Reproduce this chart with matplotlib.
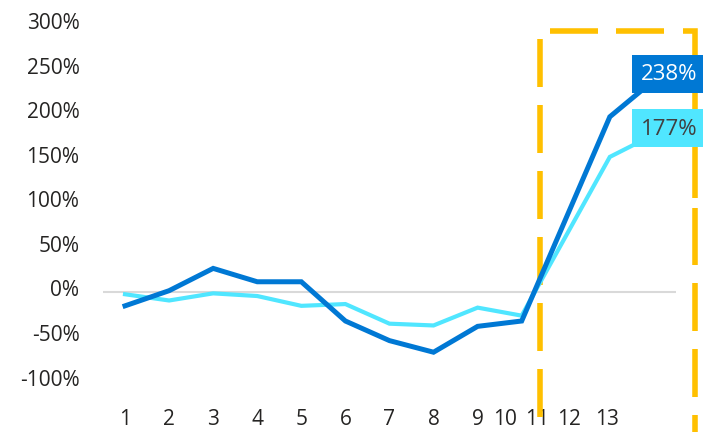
import matplotlib
matplotlib.use("Agg")
import matplotlib.pyplot as plt
from matplotlib.patches import Rectangle
from matplotlib.transforms import ScaledTranslation

plt.rcParams['font.family'] = ['Open Sans', 'DejaVu Sans']
plt.rcParams['lines.scale_dashes'] = False

# data (no value at 11)
periods = [1, 2, 3, 4, 5, 6, 7, 8, 9, 10, 12, 13]
series_dark = [-15, 2, 27, 12, 12, -32, -54, -67, -38, -32, 197, 238]
series_light = [-2, -9, -1, -4, -15, -13, -35, -37, -17, -26, 152, 177]
tick_labels = ['1', '2', '3', '4', '5', '6', '7', '8', '9', '10', '11', '12', '13']
# label positions as drawn in the original (last few are squeezed together)
tick_pos = [1, 2, 3, 4, 5, 6, 7, 8, 9, 9.62, 10.34, 11.07, 11.93]
y_ticks = [-100, -50, 0, 50, 100, 150, 200, 250, 300]

dark = '#0078D4'
light = '#50E6FF'
gold = '#FFC000'

fig = plt.figure(figsize=(7.03, 4.32), dpi=100)
ax = fig.add_axes([0.1465, 0.0856, 0.815, 0.8567])

ax.axhline(0, color='#D9D9D9', lw=1.5, zorder=1)

ax.plot(periods, series_light, color=light, lw=3.0, zorder=3, solid_joinstyle='miter')
ax.plot(periods, series_dark, color=dark, lw=3.6, zorder=3.5, solid_joinstyle='miter')

# dashed highlight frame (open at the bottom, runs off the figure)
px = 0.72  # pixel -> point at 100 dpi
xl, xr, yt, ybreak, ygap, ybot = 10.41, 13.93, 293, 106, 95, -175
ax.plot([xr, xr, xl, xl], [ybreak, yt, yt, ybot], color=gold, lw=4,
        dashes=[v * px for v in [179, 19] + [48, 18] * 12],
        dash_capstyle='butt', dash_joinstyle='miter', clip_on=False, zorder=2)
ax.plot([xr, xr], [ygap, ybot], color=gold, lw=4,
        dashes=[v * px for v in [57, 18] + [48, 18] * 6],
        dash_capstyle='butt', clip_on=False, zorder=2)

# end labels
for val, face, txt_col in [(series_dark[-1], dark, 'white'), (series_light[-1], light, '#404040')]:
    ax.add_patch(Rectangle((periods[-1] - 0.5, val + 7 - 21.3), 1.7, 42.6,
                           facecolor=face, edgecolor='none', clip_on=False, zorder=4))
    ax.text(periods[-1] + 0.34, val + 6, f'{val}%', color=txt_col, fontsize=16,
            ha='center', va='center', zorder=5, clip_on=False)

ax.set_xlim(0.5, 13.5)
ax.set_ylim(-115, 300)
ax.set_xticks(tick_pos)
ax.set_xticklabels(tick_labels)
ax.set_yticks(y_ticks)
ax.set_yticklabels([f'{v}%' for v in y_ticks])
ax.tick_params(axis='both', length=0, labelsize=15, colors='#252423')
ax.tick_params(axis='y', pad=17)
ax.tick_params(axis='x', pad=10)
for s in ax.spines.values():
    s.set_visible(False)

# y labels sit a few pixels above their gridline positions in the original
shift = ScaledTranslation(0, 4 / 100, fig.dpi_scale_trans)
for lab in ax.get_yticklabels():
    lab.set_transform(lab.get_transform() + shift)

fig.savefig('out.png', dpi=100, facecolor='white')
